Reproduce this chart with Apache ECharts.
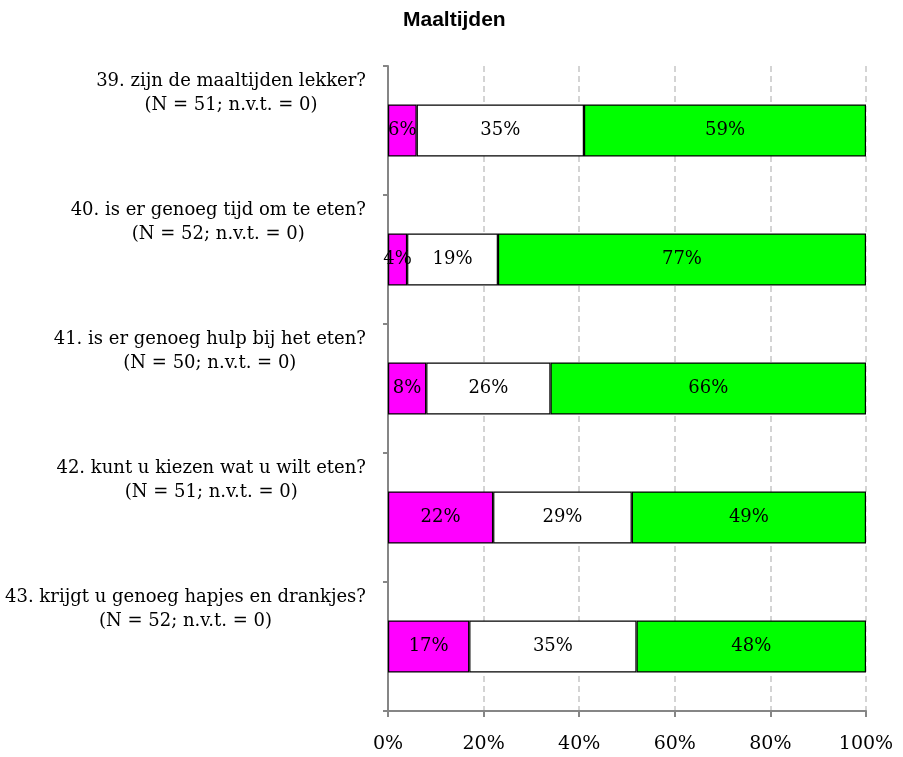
<!DOCTYPE html>
<html>
<head>
<meta charset="utf-8">
<script src="https://cdn.jsdelivr.net/npm/echarts@6/dist/echarts.min.js"></script>
<style>
  html, body { margin: 0; padding: 0; background: #ffffff; }
  #chart { width: 903px; height: 757px; }
</style>
</head>
<body>
<div id="chart"></div>
<script>
// ---- data ----
const questions = [
  '39. zijn de maaltijden lekker?',
  '40. is er genoeg tijd om te eten?',
  '41. is er genoeg hulp bij het eten?',
  '42. kunt u kiezen wat u wilt eten?',
  '43. krijgt u genoeg hapjes en drankjes?'
];
const nValues = [51, 52, 50, 51, 52];
const nvtValues = [0, 0, 0, 0, 0];
const negative = [6, 4, 8, 22, 17];   // magenta
const neutral  = [35, 19, 26, 29, 35]; // white
const positive = [59, 77, 66, 49, 48]; // green
const xTicks = [0, 20, 40, 60, 80, 100];

const serif = '"DejaVu Serif", "Liberation Serif", serif';
const axisGray = '#868686';

const chart = echarts.init(document.getElementById('chart'), null, { renderer: 'canvas' });

function seriesOf(name, data, color) {
  return {
    name: name,
    type: 'bar',
    stack: 'total',
    barWidth: 52,
    data: data,
    itemStyle: { color: color, borderColor: '#000000', borderWidth: 1.2 },
    label: {
      show: true,
      position: 'inside',
      formatter: '{c}%',
      color: '#000000',
      fontFamily: serif,
      fontSize: 18
    },
    emphasis: { disabled: true }
  };
}

chart.setOption({
  animation: false,
  backgroundColor: '#ffffff',
  title: {
    text: 'Maaltijden',
    left: 403,
    top: 10,
    padding: 0,
    textStyle: {
      fontFamily: '"Liberation Sans", Arial, sans-serif',
      fontWeight: 'bold',
      fontSize: 21,
      color: '#000000'
    }
  },
  grid: { left: 388, right: 37, top: 66, bottom: 46, containLabel: false },
  xAxis: {
    type: 'value',
    min: xTicks[0],
    max: xTicks[xTicks.length - 1],
    interval: 20,
    axisLine: { show: true, lineStyle: { color: axisGray, width: 2 } },
    axisTick: { show: true, length: 6, lineStyle: { color: axisGray, width: 2 } },
    axisLabel: {
      formatter: '{value}%',
      margin: 24,
      color: '#000000',
      fontFamily: serif,
      fontSize: 19
    },
    splitLine: {
      show: true,
      lineStyle: { color: '#c6c6c6', width: 1.5, type: [6, 4] }
    }
  },
  yAxis: {
    type: 'category',
    inverse: true,
    data: questions,
    axisLine: { show: true, lineStyle: { color: axisGray, width: 2 } },
    axisTick: { show: true, length: 5, lineStyle: { color: axisGray, width: 2 } },
    axisLabel: {
      interval: 0,
      margin: 22,
      align: 'right',
      verticalAlign: 'middle',
      padding: [0, 0, 75, 0],
      formatter: function (value, index) {
        return '{c|' + value + '}\n{c|(N = ' + nValues[index] + '; n.v.t. = ' + nvtValues[index] + ')}';
      },
      rich: {
        c: {
          align: 'center',
          fontFamily: serif,
          fontSize: 18,
          lineHeight: 24,
          color: '#000000'
        }
      }
    },
    splitLine: { show: false }
  },
  series: [
    seriesOf('neg', negative, '#FF00FF'),
    seriesOf('neu', neutral, '#FFFFFF'),
    seriesOf('pos', positive, '#00FF00')
  ]
});
</script>
</body>
</html>
